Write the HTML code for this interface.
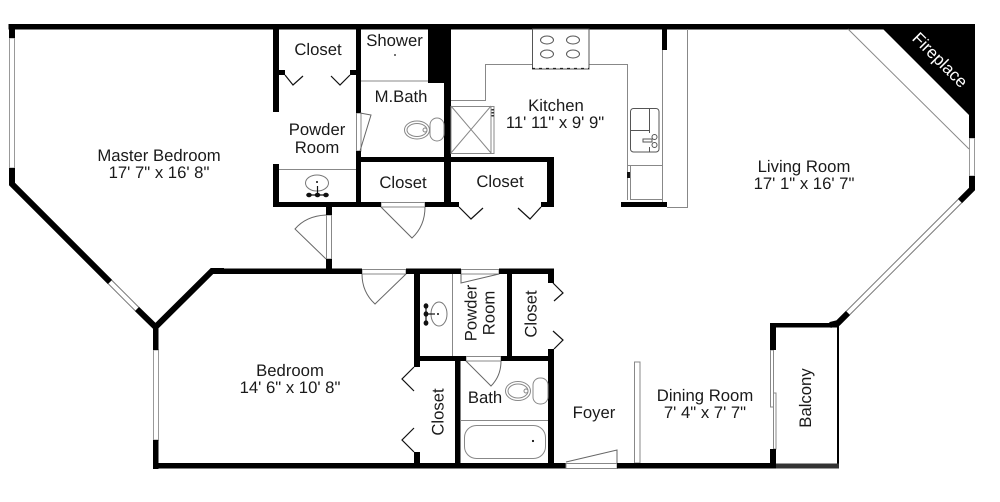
<!DOCTYPE html>
<html>
<head>
<meta charset="utf-8">
<style>
html,body{margin:0;padding:0;background:#fff}
svg{display:block}
text{font-family:"Liberation Sans",Arial,sans-serif;font-size:16.7px;fill:#1a1a1a;text-anchor:middle;text-rendering:geometricPrecision}
.w{fill:#000}
.win{fill:#fff;stroke:#999;stroke-width:1}
.l{fill:none;stroke:#888;stroke-width:1}
.d{fill:none;stroke:#666;stroke-width:1}
.k{fill:none;stroke:#111;stroke-width:1.2}
</style>
</head>
<body>
<svg width="1000" height="502" viewBox="0 0 1000 502" xmlns="http://www.w3.org/2000/svg">
<rect width="1000" height="502" fill="#fff"/>

<!-- windows -->
<rect class="win" x="9.5" y="38" width="5" height="130"/>
<line x1="110" y1="282" x2="137" y2="309" stroke="#777" stroke-width="6"/>
<line x1="110" y1="282" x2="137" y2="309" stroke="#fff" stroke-width="4"/>
<rect class="win" x="153.5" y="350" width="5" height="90"/>
<rect class="win" x="969.5" y="138" width="5" height="38"/>
<line x1="960" y1="201" x2="848" y2="313" stroke="#777" stroke-width="6"/>
<line x1="960" y1="201" x2="848" y2="313" stroke="#fff" stroke-width="4"/>

<!-- door frames -->
<rect class="l" x="356.5" y="113" width="4.5" height="38"/>
<rect class="l" x="381" y="202.5" width="44" height="4.5"/>
<rect class="l" x="326.5" y="215" width="5" height="44"/>
<rect class="l" x="362" y="269.5" width="44" height="4.5"/>
<rect class="l" x="461" y="269.5" width="38" height="4.5"/>
<rect class="l" x="466" y="356.5" width="35" height="4.5"/>
<rect class="l" x="566" y="463.5" width="51" height="5"/>
<rect class="l" x="634.5" y="362" width="5.5" height="101"/>
<rect class="l" x="770.5" y="350" width="3" height="57"/>
<rect class="l" x="773.5" y="393" width="2.5" height="56"/>

<!-- walls -->
<g fill="none" stroke="#000" stroke-width="6" stroke-miterlimit="10">
<polyline points="12,168 12,184 110,282"/>
<polyline points="137,309 155.5,327 212,271 224,271"/>
<polyline points="972,176 972,189 960,201"/>
<polyline points="848,313 838,323 830,325"/>
</g>
<g class="w">
<rect x="8.5" y="24" width="966.5" height="5.5"/>
<rect x="9" y="24" width="6" height="14"/>
<rect x="213" y="268.5" width="149" height="5.5"/>
<rect x="153" y="327" width="5.5" height="23"/>
<rect x="153" y="440" width="5.5" height="29"/>
<rect x="153" y="463" width="412.5" height="5.5"/>
<rect x="617" y="463" width="159" height="5.5"/>
<rect x="273" y="29" width="6" height="83"/>
<rect x="273" y="164" width="6" height="43"/>
<rect x="273" y="202" width="108" height="5"/>
<rect x="425" y="202" width="34" height="5"/>
<rect x="279" y="70" width="6" height="5"/>
<rect x="350" y="70" width="6" height="5"/>
<rect x="356" y="29" width="5" height="84"/>
<rect x="356" y="151" width="5" height="56"/>
<rect x="356" y="157" width="198" height="5"/>
<rect x="444" y="29" width="7" height="178"/>
<rect x="428" y="29" width="16" height="54"/>
<rect x="547" y="157" width="7" height="50"/>
<rect x="541" y="202" width="13" height="5"/>
<rect x="326" y="207" width="6" height="8"/>
<rect x="326" y="259" width="6" height="10"/>
<rect x="662" y="29" width="5" height="21"/>
<rect x="621" y="202" width="46" height="5"/>
<rect x="406" y="268.5" width="55" height="5.5"/>
<rect x="499" y="268.5" width="55" height="5.5"/>
<rect x="414" y="274" width="6" height="93"/>
<rect x="414" y="356" width="52" height="5"/>
<rect x="501" y="356" width="52" height="5"/>
<rect x="455" y="356" width="5.5" height="107"/>
<rect x="507" y="274" width="5" height="82"/>
<rect x="548" y="269" width="6" height="14"/>
<rect x="548" y="349" width="6" height="114"/>
<rect x="414" y="452" width="6" height="11"/>
<rect x="770" y="323" width="6" height="27"/>
<rect x="770" y="449" width="6" height="15"/>
<rect x="770" y="323" width="68" height="4.5"/>
<rect x="837" y="325" width="2" height="143"/>
<rect x="776" y="463.5" width="63" height="5" fill="#333"/>
<polygon points="883,29 883,24 975,24 975,138 969,138 969,115"/>
</g>

<!-- closet doors -->
<g class="k">
<polyline points="285,75 293,85 303,76"/>
<polyline points="350,75 340,85 331,76"/>
<polyline points="459,207 471,219 483,208"/>
<polyline points="541,207 530,219 518,208"/>
<polyline points="414,367 402,379 414,391"/>
<polyline points="414,428 402,440 414,452"/>
<polyline points="553,283 563,293 554,301"/>
<polyline points="553,331 563,340 554,349"/>
</g>

<!-- swing doors -->
<g class="d">
<polyline points="360,151 371,115 360,113"/>
<path d="M381,207 L412,238 Q425,226 425,207"/>
<path d="M326,259 L295,229 Q306,216 326,215"/>
<path d="M406,274 L375,304 Q362,292 362,274"/>
<path d="M461,274 L461,283 L499,274"/>
<path d="M466,361 L491,386 Q501,376 501,361"/>
<path d="M566,462 L617,450 L617,463"/>
</g>

<!-- fixture lines -->
<g class="l">
<line x1="361" y1="81" x2="428" y2="81"/>
<line x1="279" y1="169.5" x2="356" y2="169.5"/>
<polyline points="451,100.5 485.5,100.5 485.5,64.5 532,64.5"/>
<polyline points="589,64.5 627.5,64.5 627.5,200"/>
<line x1="662.5" y1="50" x2="662.5" y2="202"/>
<polyline points="687.5,29 687.5,207.5 667,207.5"/>
<line x1="627" y1="165.5" x2="662" y2="165.5"/>
<polyline points="630.5,165 630.5,199.5 662,199.5"/>
<line x1="452.5" y1="274" x2="452.5" y2="356"/>
<line x1="460" y1="420.5" x2="548" y2="420.5"/>
<line x1="848" y1="29" x2="969" y2="149"/>
<rect x="451" y="106.5" width="43" height="47"/>
<line x1="491" y1="106" x2="491" y2="153"/>
<line x1="451" y1="106" x2="491" y2="153"/>
<line x1="491" y1="106" x2="451" y2="153"/>
<rect x="464.5" y="425.5" width="81" height="33" rx="12" ry="12"/>
</g>
<rect x="627" y="172" width="3" height="6" fill="#111"/>
<rect x="491.5" y="109" width="2.5" height="1.5" fill="#333"/>
<rect x="491.5" y="112" width="2.5" height="1.5" fill="#333"/>
<rect x="491.5" y="115" width="2.5" height="1.5" fill="#333"/>
<circle cx="533" cy="441" r="1.1" fill="#111"/>
<circle cx="395" cy="55" r="0.9" fill="#111"/>

<!-- stove -->
<rect x="532.5" y="29" width="56.5" height="40" fill="#fff" stroke="#555"/>
<g fill="none" stroke="#555">
<ellipse cx="547" cy="40" rx="6.5" ry="4"/>
<ellipse cx="573" cy="40" rx="6.5" ry="4"/>
<ellipse cx="547" cy="54" rx="6.5" ry="4"/>
<ellipse cx="573" cy="54" rx="6.5" ry="4"/>
</g>
<line x1="532" y1="68.5" x2="589" y2="68.5" stroke="#222" stroke-width="1.2" stroke-dasharray="3 4"/>

<!-- kitchen sink -->
<g fill="none" stroke="#555">
<rect x="630.5" y="108.5" width="28.5" height="43.5" rx="3"/>
<line x1="649.5" y1="108" x2="649.5" y2="133"/>
<line x1="649.5" y1="147" x2="649.5" y2="152"/>
<line x1="630" y1="130.5" x2="649" y2="130.5"/>
<circle cx="654.5" cy="137" r="2.5"/>
<circle cx="654.5" cy="145" r="2.5"/>
<path d="M643,139 h9 v3 h-9 z"/>
</g>

<!-- toilets -->
<g fill="#fff" stroke="#888">
<rect x="430" y="118" width="14" height="23" rx="7"/>
<ellipse cx="417" cy="130" rx="12.5" ry="9"/>
<ellipse cx="417" cy="130" rx="10" ry="6.5"/>
<circle cx="425" cy="130" r="2"/>
<rect x="533" y="378" width="15" height="26" rx="7"/>
<ellipse cx="518" cy="391" rx="12.5" ry="9.5"/>
<ellipse cx="518" cy="391" rx="10" ry="7"/>
<circle cx="526" cy="391" r="2"/>
</g>

<!-- sinks -->
<g fill="none" stroke="#777">
<ellipse cx="317" cy="183" rx="11.5" ry="8"/>
<ellipse cx="439" cy="314" rx="8" ry="12"/>
</g>
<circle cx="317" cy="182" r="1" fill="#111"/>
<circle cx="438" cy="314" r="1" fill="#111"/>
<g stroke="#111" stroke-width="1.2" fill="#111">
<line x1="308" y1="195" x2="327" y2="195"/>
<line x1="317.5" y1="186" x2="317.5" y2="195"/>
<ellipse cx="309" cy="195" rx="2.2" ry="1.6"/>
<ellipse cx="317.5" cy="195" rx="2.2" ry="1.6"/>
<ellipse cx="326" cy="195" rx="2.2" ry="1.6"/>
<line x1="426" y1="306" x2="426" y2="323"/>
<line x1="426" y1="314" x2="435" y2="314"/>
<ellipse cx="426" cy="306" rx="1.8" ry="2.2"/>
<ellipse cx="426" cy="314" rx="1.8" ry="2.2"/>
<ellipse cx="426" cy="323" rx="1.8" ry="2.2"/>
</g>

<!-- labels -->
<text x="318" y="55">Closet</text>
<text x="394.5" y="46">Shower</text>
<text x="401" y="102">M.Bath</text>
<text x="556" y="111">Kitchen</text>
<text x="555" y="128">11' 11" x 9' 9"</text>
<text x="317" y="135">Powder</text>
<text x="317" y="153">Room</text>
<text x="403" y="188">Closet</text>
<text x="500" y="187">Closet</text>
<text x="159" y="161">Master Bedroom</text>
<text x="159" y="178">17' 7" x 16' 8"</text>
<text x="804" y="172">Living Room</text>
<text x="804" y="189">17' 1" x 16' 7"</text>
<text x="290" y="376">Bedroom</text>
<text x="290" y="393">14' 6" x 10' 8"</text>
<text x="485" y="403">Bath</text>
<text x="594" y="418">Foyer</text>
<text x="705" y="401">Dining Room</text>
<text x="705" y="418">7' 4" x 7' 7"</text>
<text transform="translate(476.5,313) rotate(-90)">Powder</text>
<text transform="translate(494.5,313) rotate(-90)">Room</text>
<text transform="translate(536.5,314) rotate(-90)">Closet</text>
<text transform="translate(443.5,412) rotate(-90)">Closet</text>
<text transform="translate(811,398) rotate(-90)">Balcony</text>
<text transform="translate(936,64) rotate(45)" style="fill:#fff;font-size:17px">Fireplace</text>
</svg>
</body>
</html>
